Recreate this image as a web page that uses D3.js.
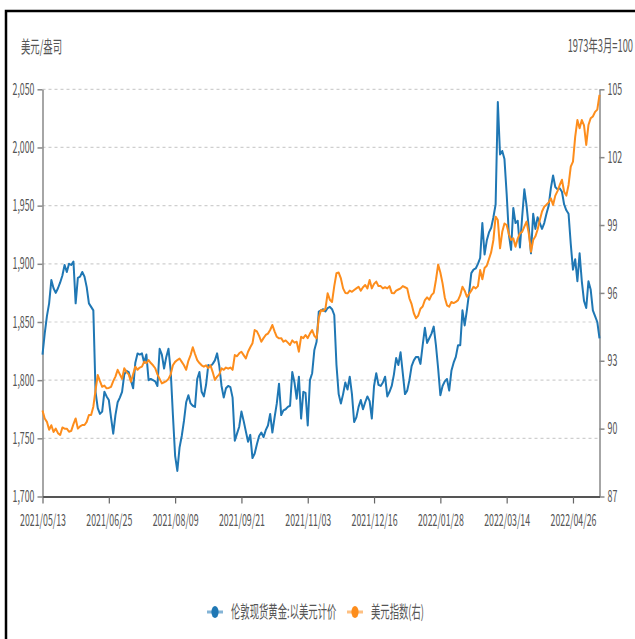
<!DOCTYPE html>
<html>
<head>
<meta charset="utf-8">
<script src="https://cdn.jsdelivr.net/npm/d3@7"></script>
<style>
  body { margin: 0; background: #fff; }
  text { font-family: "Noto Sans CJK SC", "Noto Sans", sans-serif; fill: #555; }
</style>
</head>
<body>
<svg id="chart" width="635" height="639"></svg>
<script>
// ---- data ----
const xTickIdx = [0, 30, 60, 90, 120, 150, 180, 210, 240];
const xTickLabels = ['2021/05/13', '2021/06/25', '2021/08/09', '2021/09/21', '2021/11/03',
                     '2021/12/16', '2022/01/28', '2022/03/14', '2022/04/26'];
const goldTicks = [1700, 1750, 1800, 1850, 1900, 1950, 2000, 2050];
const dxyTicks = [87, 90, 93, 96, 99, 102, 105];
const seriesNames = ['伦敦现货黄金:以美元计价', '美元指数(右)'];

// London spot gold, USD/oz (left axis)
const gold = [
  1822, 1840, 1855, 1866, 1886, 1879, 1875, 1879, 1884, 1890,
  1899, 1893, 1900, 1899, 1902, 1866, 1888, 1889, 1893, 1889,
  1880, 1866, 1863, 1860, 1790, 1776, 1771, 1773, 1790, 1786,
  1783, 1768, 1754, 1770, 1781, 1785, 1790, 1805, 1808, 1807,
  1800, 1793, 1815, 1823, 1822, 1823, 1815, 1822, 1800, 1801,
  1800, 1799, 1795, 1827, 1822, 1810, 1820, 1827, 1808, 1770,
  1735, 1722, 1742, 1752, 1765, 1781, 1787, 1780, 1778, 1777,
  1801, 1807, 1790, 1786, 1796, 1813, 1812, 1814, 1817, 1823,
  1812, 1795, 1785, 1793, 1795, 1794, 1785, 1748, 1754, 1760,
  1773, 1765, 1756, 1747, 1753, 1733, 1737, 1745, 1752, 1755,
  1751, 1757, 1761, 1771, 1755, 1768, 1780, 1797, 1770, 1774,
  1775, 1777, 1778, 1807, 1798, 1784, 1803, 1767, 1790, 1789,
  1761, 1800, 1806, 1826, 1833, 1859, 1860, 1861, 1859, 1862,
  1863, 1861, 1856, 1813, 1788, 1780, 1788, 1798, 1792, 1803,
  1788, 1764, 1768, 1777, 1783, 1775, 1781, 1786, 1782, 1767,
  1795, 1806, 1796, 1795, 1798, 1803, 1786, 1790, 1795, 1805,
  1819, 1813, 1824, 1806, 1788, 1791, 1800, 1812, 1817, 1820,
  1820, 1814, 1830, 1845, 1832, 1836, 1840, 1846, 1830, 1810,
  1787, 1795, 1799, 1801, 1791, 1808, 1815, 1820, 1830, 1830,
  1860, 1847, 1860, 1875, 1892, 1895, 1896, 1900, 1905, 1935,
  1908, 1920, 1927, 1931, 1940, 1951, 2039, 1994, 1997, 1990,
  1960, 1925, 1912, 1948, 1935, 1937, 1914, 1940, 1964, 1950,
  1931, 1909, 1943, 1930, 1940, 1935, 1930, 1935, 1943, 1950,
  1965, 1976, 1966, 1964, 1965, 1962, 1951, 1946, 1943, 1917,
  1895, 1904, 1885, 1909, 1885, 1868, 1862, 1885, 1878, 1860,
  1855, 1850, 1836
];

// US dollar index, Mar 1973 = 100 (right axis)
const dxy = [
  90.8, 90.45, 90.3, 89.95, 90.15, 89.85, 90.0, 89.8, 89.72, 90.05,
  90.0, 90.0, 89.86, 89.9, 90.2, 90.45, 90.0, 90.1, 90.16, 90.16,
  90.3, 90.6, 90.6, 90.97, 91.7, 92.37, 92.1, 91.85, 91.9, 91.78,
  91.8, 91.85, 92.1, 92.3, 92.6, 92.4, 92.2, 92.67, 92.5, 92.4,
  92.07, 92.4, 92.74, 92.6, 92.7, 92.74, 92.96, 92.9, 93.03, 92.9,
  92.8, 92.67, 92.4, 92.2, 92.0, 92.05, 92.1, 92.2, 92.4, 92.8,
  92.95, 93.03, 93.1, 92.95, 92.8, 92.6, 93.0, 93.25, 93.6, 93.3,
  93.03, 92.9, 92.8, 92.74, 92.8, 92.67, 92.8, 92.5, 92.15, 92.3,
  92.4, 92.67, 92.6, 92.7, 92.65, 92.7, 92.6, 93.25, 93.2, 93.33,
  93.4, 93.25, 93.1, 93.4, 93.6, 93.77, 94.36, 94.3, 94.1, 93.84,
  94.0, 94.14, 94.2, 94.36, 94.58, 94.3, 94.06, 93.99, 94.0, 93.84,
  93.9, 93.8, 93.7, 93.9, 93.8, 93.84, 93.4, 94.06, 94.0, 94.14,
  94.0, 94.2, 94.36, 94.1, 93.99, 94.9, 95.24, 95.2, 95.3, 95.98,
  95.7, 95.6, 96.3, 96.87, 96.9, 96.64, 96.2, 96.0, 95.98, 96.1,
  96.05, 96.13, 96.2, 96.27, 96.1, 96.25, 96.35, 96.2, 96.57, 96.2,
  96.4, 96.5, 96.3, 96.3, 96.2, 96.25, 96.2, 96.3, 96.0, 95.98,
  96.1, 96.15, 96.2, 96.3, 96.25, 96.2, 95.76, 95.5, 95.1, 94.88,
  95.0, 95.3, 95.4, 95.68, 95.8, 95.7, 95.9, 96.0, 96.57, 97.25,
  96.9, 96.42, 95.8, 95.45, 95.39, 95.6, 95.55, 95.6, 95.68, 95.9,
  96.27, 96.1, 95.83, 95.95, 96.1, 96.27, 96.2, 96.3, 97.01, 96.6,
  97.1, 97.2, 97.5, 97.8, 98.34, 99.37, 99.22, 97.97, 98.7, 99.07,
  99.0, 98.6, 98.34, 98.41, 98.04, 98.4, 98.63, 98.7, 98.93, 99.15,
  98.63, 97.82, 98.34, 98.5, 98.8, 99.22, 99.6, 99.81, 99.9, 100.0,
  100.18, 99.89, 100.3, 100.5, 100.77, 101.0, 100.47, 100.3, 100.77, 101.58,
  101.8, 102.9, 103.64, 103.28, 103.64, 103.4, 102.54, 103.42, 103.72, 103.8,
  104.0, 104.1, 104.75
];

const COLORS = ['#1f77b4', '#fd8d1c'];
const SQ = 0.55; // the reference text is squeezed horizontally

// squeeze text horizontally, keeping its anchor x in place
function squeeze(sel) {
  sel.each(function() {
    const t = d3.select(this);
    const x = +t.attr('x') || 0;
    t.attr('x', x / SQ).attr('transform', `scale(${SQ},1)`);
  });
}

const svg = d3.select('#chart');

// outer frame (left + top edges only show in the picture)
svg.append('path')
  .attr('d', 'M6,639V11H635')
  .attr('fill', 'none').attr('stroke', '#000').attr('stroke-width', 2.5);

const plotL = 42.5, plotR = 599.5, plotT = 89.3, plotB = 496.5;

const x = d3.scaleLinear().domain([0, gold.length - 1]).range([plotL, plotR]);
const yL = d3.scaleLinear().domain([1700, 2050]).range([plotB, plotT]);
const yR = d3.scaleLinear().domain([87, 105]).range([plotB, plotT]);

// Gridlines
svg.append('g').selectAll('line')
  .data(goldTicks.filter(d => d > 1700)).enter().append('line')
  .attr('x1', plotL).attr('x2', plotR)
  .attr('y1', d => yL(d)).attr('y2', d => yL(d))
  .attr('stroke', '#cfcfcf').attr('stroke-width', 1.2)
  .attr('stroke-dasharray', '3 3');

// Axes
const axL = svg.append('g').attr('transform', `translate(${plotL},0)`)
  .call(d3.axisLeft(yL).tickValues(goldTicks).tickFormat(d3.format(','))
    .tickSize(5).tickSizeOuter(0).tickPadding(3));
const axR = svg.append('g').attr('transform', `translate(${plotR},0)`)
  .call(d3.axisRight(yR).tickValues(dxyTicks).tickSize(5).tickSizeOuter(0).tickPadding(3));
const axB = svg.append('g').attr('transform', `translate(0,${plotB})`)
  .call(d3.axisBottom(x).tickValues(xTickIdx).tickFormat((d, i) => xTickLabels[i])
    .tickSize(7).tickSizeOuter(0).tickPadding(11));

[axL, axR].forEach(a => {
  a.select('.domain').attr('stroke', '#888').attr('stroke-width', 1.5);
  a.selectAll('.tick line').attr('stroke', '#888').attr('stroke-width', 1.5);
});
axB.select('.domain').attr('stroke', '#555').attr('stroke-width', 2);
axB.selectAll('.tick line').attr('stroke', '#666').attr('stroke-width', 1.2);
[axL, axR, axB].forEach(a => {
  a.selectAll('text').attr('font-size', 16).attr('fill', '#555')
    .style('font-family', '"Noto Sans CJK SC", "Noto Sans", sans-serif');
  squeeze(a.selectAll('text'));
});

// Series lines
const lineL = d3.line().x((d, i) => x(i)).y(d => yL(d));
const lineR = d3.line().x((d, i) => x(i)).y(d => yR(d));
svg.append('path').datum(gold).attr('d', lineL)
  .attr('fill', 'none').attr('stroke', COLORS[0]).attr('stroke-width', 2).attr('stroke-linejoin', 'round');
svg.append('path').datum(dxy).attr('d', lineR)
  .attr('fill', 'none').attr('stroke', COLORS[1]).attr('stroke-width', 2).attr('stroke-linejoin', 'round');

// Unit labels
svg.append('text').attr('x', 21).attr('y', 53).attr('font-size', 17)
  .attr('fill', '#444').text('美元/盎司').call(squeeze);
svg.append('text').attr('x', 633).attr('y', 52).attr('font-size', 17)
  .attr('text-anchor', 'end').attr('fill', '#444').text('1973年3月=100').call(squeeze);

// Legend
const legendItems = [
  { cx: 215, tx: 231, name: seriesNames[0], color: COLORS[0] },
  { cx: 355, tx: 371, name: seriesNames[1], color: COLORS[1] }
];
const lg = svg.append('g').selectAll('g').data(legendItems).enter().append('g');
lg.append('line')
  .attr('x1', d => d.cx - 8).attr('x2', d => d.cx + 8)
  .attr('y1', 612).attr('y2', 612)
  .attr('stroke', d => d.color).attr('stroke-opacity', 0.55).attr('stroke-width', 3);
lg.append('ellipse')
  .attr('cx', d => d.cx).attr('cy', 612).attr('rx', 3.6).attr('ry', 6)
  .attr('fill', d => d.color);
lg.append('text')
  .attr('x', d => d.tx).attr('y', 618).attr('font-size', 17).attr('fill', '#555')
  .text(d => d.name).call(squeeze);
</script>
</body>
</html>
